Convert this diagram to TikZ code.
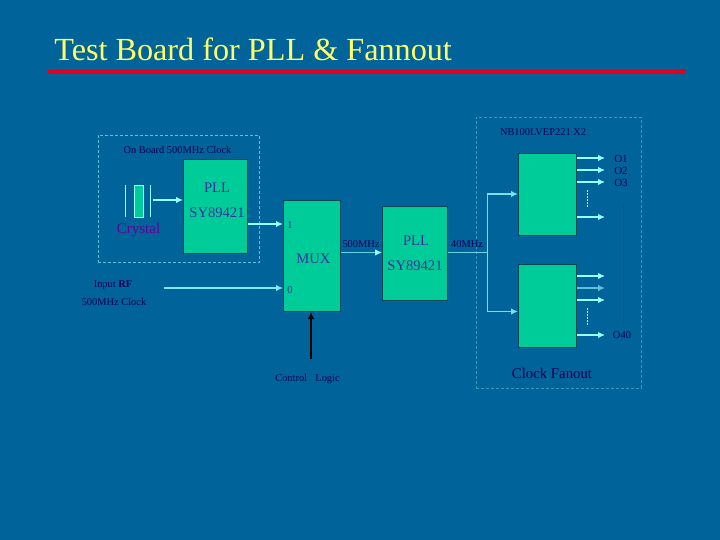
\documentclass[tikz,border=0pt]{standalone}
\usepackage{fontspec}
\setmainfont{Liberation Serif}
\usetikzlibrary{arrows.meta}
\definecolor{slidebg}{RGB}{0,99,153}
\definecolor{boxfill}{RGB}{0,204,153}
\definecolor{boxedge}{RGB}{0,70,80}
\definecolor{wirecol}{RGB}{153,255,255}
\definecolor{boxtext}{RGB}{51,51,153}
\definecolor{labeltext}{RGB}{0,0,90}
\tikzset{every picture/.style={line width=0.75pt}}
\tikzset{
    block/.style={draw=boxedge, fill=boxfill, line width=1pt, anchor=north west, inner sep=0pt},
    wire/.style={color=wirecol, line width=1.4pt, -{Latex[length=7pt,width=6.5pt]}},
    plainwire/.style={color=wirecol!70!slidebg, line width=1pt},
    frame/.style={draw=wirecol!60!slidebg, dash pattern={on 3pt off 2pt}},
    boxlabel/.style={color=boxtext, font=\fontsize{14.6}{15}\selectfont},
    smalllabel/.style={color=labeltext, font=\fontsize{10.4}{11}\selectfont}
}

\begin{document}
\begin{tikzpicture}[x=1pt, y=-1pt]
    \useasboundingbox[fill=slidebg] (0,0) rectangle (720,540);
    \node[anchor=base west, inner sep=0pt, color={rgb,255:red,255;green,255;blue,102}, font=\fontsize{32.2}{33}\selectfont] (title) at (54,61) {Test Board for PLL \& Fannout};
    \fill[color={rgb,255:red,224;green,0;blue,32}] (48,69.5) rectangle (686,74.5);

    \node[frame, line width=1pt, anchor=north west, inner sep=0pt, minimum width=161.5pt, minimum height=127pt] (boardframe) at (97.5,135) {};
    \node[frame, draw=wirecol!35!slidebg, anchor=north west, inner sep=0pt, minimum width=165pt, minimum height=271pt] (fanoutframe) at (476,117) {};

    \node[block, minimum width=64pt, minimum height=94pt] (plla) at (183,159) {};
    \node[block, minimum width=57pt, minimum height=111pt] (mux) at (283,200) {};
    \node[block, minimum width=65pt, minimum height=94pt] (pllb) at (382,206) {};
    \node[block, minimum width=58pt, minimum height=82pt] (fana) at (518,153) {};
    \node[block, minimum width=58pt, minimum height=83pt] (fanb) at (518,264) {};

    \draw[wirecol, line width=1pt] (125.7,185) -- (125.7,217);
    \draw[wirecol, line width=1pt] (150.3,185) -- (150.3,217);
    \node[draw=wirecol, fill=boxfill, line width=1pt, anchor=north west, inner sep=0pt, minimum width=9pt, minimum height=32pt] (crystal) at (134,185) {};

    \node[smalllabel] (boardlabel) at (177.5,150) {On Board 500MHz Clock};
    \node[boxlabel] (pllaname) at (217,188) {PLL};
    \node[boxlabel] (pllapart) at (217,213) {SY89421};
    \node[color={rgb,255:red,102;green,0;blue,153}, font=\fontsize{15}{15}\selectfont] (crystallabel) at (138.5,230) {Crystal};
    \node[smalllabel] (inputlabel) at (113,285) {Input \textbf{RF}};
    \node[smalllabel] (clocklabel) at (114,302) {500MHz Clock};
    \node[smalllabel, color=boxtext] (muxone) at (290,225) {1};
    \node[smalllabel, color=boxtext] (muxzero) at (290,290) {0};
    \node[boxlabel] (muxname) at (313.5,259) {MUX};
    \node[boxlabel] (pllbname) at (416,241) {PLL};
    \node[boxlabel] (pllbpart) at (415,266) {SY89421};
    \node[smalllabel] (inlabel) at (361,244) {500MHz};
    \node[smalllabel] (outlabel) at (467,244) {40MHz};
    \node[smalllabel] (controllabel) at (307.5,379) {Control\hspace{0.8em}Logic};
    \node[smalllabel] (fanpart) at (543,132.5) {NB100LVEP221 X2};
    \node[color=labeltext, font=\fontsize{14.8}{15}\selectfont] (fanname) at (552,373) {Clock Fanout};
    \node[smalllabel, font=\fontsize{11}{11}\selectfont] (oone) at (621,158.5) {O1};
    \node[smalllabel, font=\fontsize{11}{11}\selectfont] (otwo) at (621,170.5) {O2};
    \node[smalllabel, font=\fontsize{11}{11}\selectfont] (othree) at (621,182.5) {O3};
    \node[smalllabel, font=\fontsize{10.5}{11}\selectfont] (ofort) at (622,335) {O40};

    \coordinate (xtalout) at (153,200);
    \coordinate (plltap) at (248,224);
    \coordinate (rfin) at (164,288);
    \coordinate (controlin) at (311,359);
    \coordinate (split) at (487.5,252.5);

    \draw[wire] (xtalout) -- (plla.west |- xtalout);
    \draw[wire] (plltap) -- (mux.west |- plltap);
    \draw[wire, color=wirecol!85!slidebg] (rfin) -- (mux.west |- rfin);
    \draw[wire, color=black] (controlin) -- (mux.south -| controlin);
    \draw[plainwire, -{Latex[length=7pt,width=6.5pt,color=wirecol]}] (mux.east |- split) -- (pllb.west |- split);
    \draw[plainwire] (pllb.east |- split) -- (split);
    \draw[wire, color=wirecol!80!slidebg] (split) |- (fana.west |- 0,194);
    \draw[wire, color=wirecol!80!slidebg] (split) |- (fanb.west |- 0,311.5);

    \foreach \yout in {158,170,182,217} {
        \draw[wire] (fana.east |- 0,\yout) -- (605,\yout);
    }
    \foreach \yout in {276,300,335} {
        \draw[wire] (fanb.east |- 0,\yout) -- (605,\yout);
    }
    \draw[wire, color=wirecol!60!slidebg] (fanb.east |- 0,288) -- (605,288);

    \draw[wirecol, dash pattern={on 2pt off 1pt}] (587,190) -- (587,207);
    \draw[wirecol, dash pattern={on 2pt off 1pt}] (587,308) -- (587,325);
    \draw[color=boxtext!70!slidebg, dash pattern={on 1pt off 1pt}] (623,205) -- (623,326);
\end{tikzpicture}
\end{document}
